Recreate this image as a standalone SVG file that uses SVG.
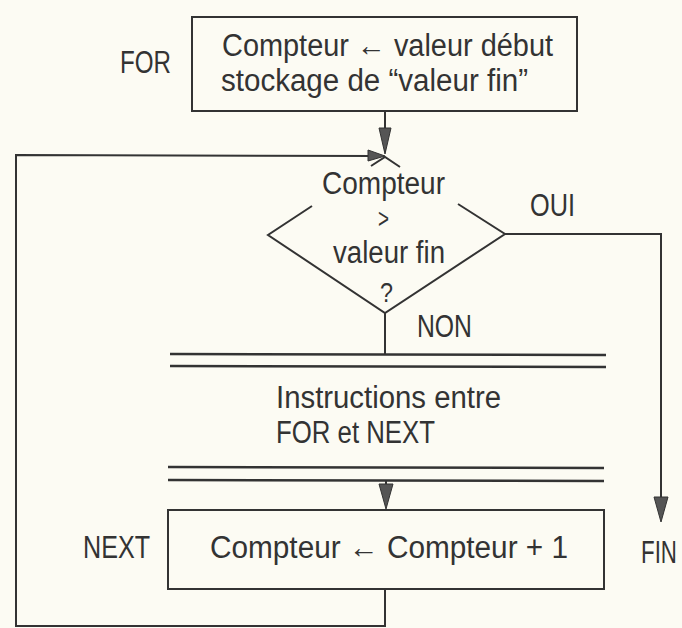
<svg xmlns="http://www.w3.org/2000/svg" width="682" height="628" viewBox="0 0 682 628">
<style>
.bg{fill:#fcfbf3}
.t{font-family:"Liberation Sans","DejaVu Sans",sans-serif;font-size:31px;fill:#333}
.s{fill:none;stroke:#333;stroke-width:2}
.d{fill:none;stroke:#333;stroke-width:2.5}
.ah{fill:#555;stroke:#333;stroke-width:1}
</style>
<rect class="bg" x="0" y="0" width="682" height="628"/>
<g id="init">
<rect class="s" x="192" y="17" width="385" height="94"/>
<text class="t" x="222" y="56" textLength="331" lengthAdjust="spacingAndGlyphs">Compteur ← valeur début</text>
<text class="t" x="221" y="91" textLength="307" lengthAdjust="spacingAndGlyphs">stockage de “valeur fin”</text>
</g>
<g id="label-for"><text class="t" x="120" y="73" textLength="51" lengthAdjust="spacingAndGlyphs">FOR</text></g>
<g id="test">
<path class="s" d="M312,206 L268,235 L385,313 L505,234 L458,204 M371,166 L385,157 L400,167"/>
<text class="t" x="322" y="194" textLength="123" lengthAdjust="spacingAndGlyphs">Compteur</text>
<text class="t" x="378" y="228" style="font-size:28px" textLength="11" lengthAdjust="spacingAndGlyphs">&gt;</text>
<text class="t" x="333" y="263" textLength="112" lengthAdjust="spacingAndGlyphs">valeur fin</text>
<text class="t" x="380" y="302" style="font-size:27px" textLength="13" lengthAdjust="spacingAndGlyphs">?</text>
</g>
<g id="label-oui"><text class="t" x="530" y="216" textLength="45" lengthAdjust="spacingAndGlyphs">OUI</text></g>
<g id="label-non"><text class="t" x="417" y="337" textLength="55" lengthAdjust="spacingAndGlyphs">NON</text></g>
<g id="body">
<line class="d" x1="170" y1="354" x2="606" y2="355"/>
<line class="d" x1="170" y1="366" x2="606" y2="367"/>
<text class="t" x="276" y="408" textLength="225" lengthAdjust="spacingAndGlyphs">Instructions entre</text>
<text class="t" x="276" y="443" textLength="159" lengthAdjust="spacingAndGlyphs">FOR et NEXT</text>
<line class="d" x1="168" y1="467" x2="604" y2="468"/>
<line class="d" x1="168" y1="480" x2="604" y2="481"/>
</g>
<g id="increment">
<rect class="s" x="168" y="510" width="436" height="79"/>
<text class="t" x="210" y="558" textLength="358" lengthAdjust="spacingAndGlyphs">Compteur ← Compteur + 1</text>
</g>
<g id="label-next"><text class="t" x="83" y="558" textLength="67" lengthAdjust="spacingAndGlyphs">NEXT</text></g>
<g id="fin"><text class="t" transform="translate(641,563) scale(0.72,1)" x="0" y="0">FIN</text></g>
<g id="connectors">
<line class="s" x1="385" y1="111" x2="385" y2="152"/>
<polygon class="ah" points="379,128 391,128 385,154"/>
<polyline class="s" points="385,589 385,626 16,626 16,155 378,156"/>
<polygon class="ah" points="368,150 368,161 385,156"/>
<polyline class="s" points="505,234 661,234 661,516"/>
<polygon class="ah" points="654,497 668,497 661,522"/>
<line class="s" x1="385" y1="313" x2="385" y2="354"/>
<line class="s" x1="386" y1="481" x2="386" y2="506"/>
<polygon class="ah" points="379,484 393,484 386,509"/>
</g>
</svg>
